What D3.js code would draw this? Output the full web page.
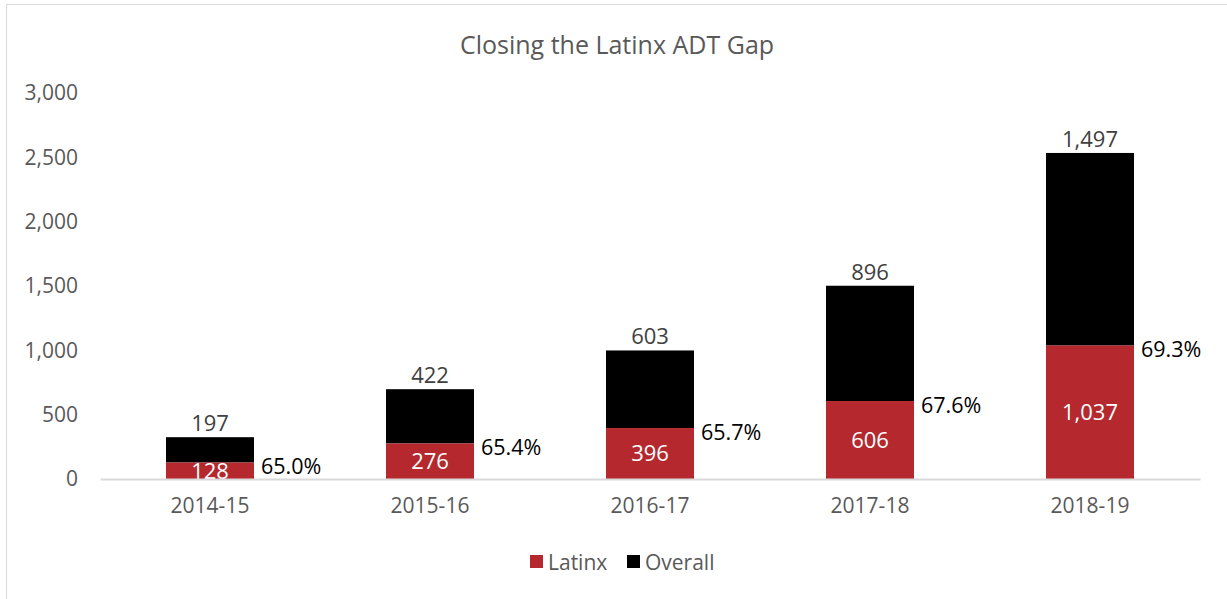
<!DOCTYPE html>
<html><head><meta charset="utf-8">
<script src="https://cdn.jsdelivr.net/npm/d3@7"></script>
<style>body{margin:0;background:#fff}svg{display:block}text{font-family:"Open Sans","Liberation Sans",sans-serif}</style>
</head><body>
<svg id="c" width="1227" height="599"></svg>
<script>
const categories = ["2014-15","2015-16","2016-17","2017-18","2018-19"];
const latinx = [128,276,396,606,1037];
const overall = [197,422,603,896,1497];
const pctLabels = ["65.0%","65.4%","65.7%","67.6%","69.3%"];
const yTicks = [0,500,1000,1500,2000,2500,3000];

const svg = d3.select("#c");
const W=1227,H=599;
const FF = '"Open Sans","Liberation Sans",sans-serif';
svg.append("rect").attr("x",6.5).attr("y",4.5).attr("width",W).attr("height",H).attr("fill","#fff").attr("stroke","#d9d9d9");

const x = d3.scaleBand().domain(categories).range([100,1200]).paddingInner(0.6).paddingOuter(0.3);
const y = d3.scaleLinear().domain([0,3000]).range([479,93]);

svg.append("text").attr("x",617).attr("y",45).attr("dy","0.36em").attr("text-anchor","middle").attr("fill","#595959").attr("font-size",25).text("Closing the Latinx ADT Gap");

// y axis labels
const ya = svg.append("g").attr("transform","translate(78,0)").call(d3.axisLeft(y).tickValues(yTicks).tickSize(0).tickPadding(0).tickFormat(d3.format(",")));
ya.select(".domain").remove();
ya.selectAll("text").attr("fill","#595959").attr("font-size",21).style("font-family",FF);

// x axis
const xa = svg.append("g").attr("transform","translate(0,479)").call(d3.axisBottom(x).tickSize(0).tickPadding(19));
xa.select(".domain").attr("stroke","#d9d9d9").attr("stroke-width",2);
xa.selectAll("text").attr("fill","#595959").attr("font-size",21).style("font-family",FF);

const data = categories.map((c,i)=>({c,l:latinx[i],o:overall[i],p:pctLabels[i]}));
const g = svg.append("g");
g.selectAll(".o").data(data).join("rect").attr("x",d=>x(d.c)).attr("width",x.bandwidth())
 .attr("y",d=>y(d.l+d.o)).attr("height",d=>y(d.l)-y(d.l+d.o)).attr("fill","#000");
g.selectAll(".l").data(data).join("rect").attr("x",d=>x(d.c)).attr("width",x.bandwidth())
 .attr("y",d=>y(d.l)).attr("height",d=>y(0)-y(d.l)).attr("fill","#B5282E");
xa.raise();

const fmt = d3.format(",");
g.selectAll(".tl").data(data).join("text").attr("x",d=>x(d.c)+x.bandwidth()/2).attr("y",d=>y(d.l+d.o)-6)
 .attr("text-anchor","middle").attr("fill","#404040").attr("font-size",22).text(d=>fmt(d.o));
g.selectAll(".ll").data(data).join("text").attr("x",d=>x(d.c)+x.bandwidth()/2).attr("y",d=>(y(d.l)+y(0))/2)
 .attr("dy","0.36em").attr("text-anchor","middle").attr("fill","#fff").attr("font-size",22).text(d=>fmt(d.l));
g.selectAll(".pl").data(data).join("text").attr("x",d=>x(d.c)+x.bandwidth()+7).attr("y",d=>y(d.l)+4)
 .attr("dy","0.36em").attr("fill","#000").attr("font-size",21.5).text(d=>d.p);

// legend
const leg = svg.append("g").attr("transform","translate(0,562)");
const items=[{n:"Latinx",c:"#B5282E",x:530},{n:"Overall",c:"#000",x:627}];
items.forEach(it=>{
  leg.append("rect").attr("x",it.x).attr("y",-7).attr("width",13).attr("height",13).attr("fill",it.c);
  leg.append("text").attr("x",it.x+18).attr("y",0).attr("dy","0.36em").attr("fill","#595959").attr("font-size",21).text(it.n);
});
</script>
</body></html>
